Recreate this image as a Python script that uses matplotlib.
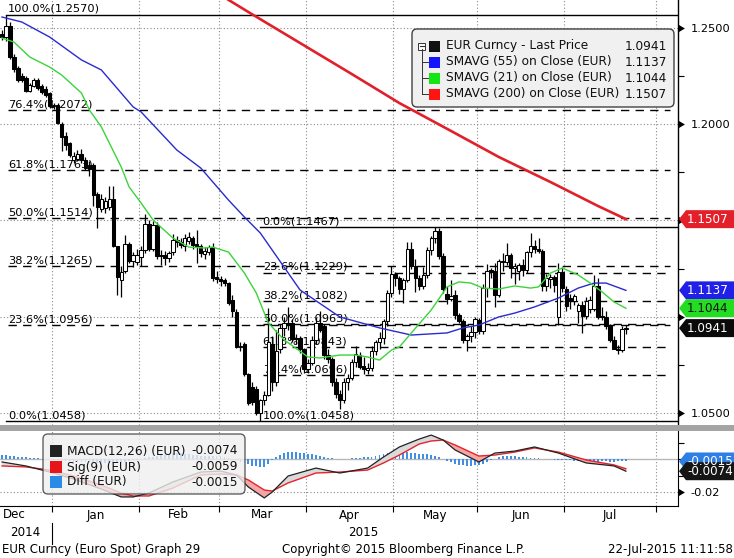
#!/usr/bin/env python3
"""EUR Curncy daily candles with Fibonacci retracements, SMAVG lines and MACD panel
(Bloomberg GP style), 15-Dec-2014 .. 22-Jul-2015."""

import numpy as np
import matplotlib
matplotlib.use("Agg")
import matplotlib.pyplot as plt
from matplotlib.patches import Polygon, Rectangle, FancyBboxPatch

plt.rcParams["font.family"] = ["DejaVu Sans"]

# ---- daily candles, one per weekday (index 0 = 15-Dec-2014) ----
opens = [
    1.2470, 1.2455, 1.2510, 1.2350, 1.2290, 1.2250, 1.2240, 1.2175, 1.2200, 1.2230, 1.2200, 1.2185, 1.2160,
    1.2095, 1.2100, 1.2000, 1.1940, 1.1900, 1.1815, 1.1820, 1.1845, 1.1815, 1.1790, 1.1790, 1.1640, 1.1560,
    1.1565, 1.1570, 1.1610, 1.1365, 1.1190, 1.1240, 1.1380, 1.1290, 1.1285,
    1.1310, 1.1345, 1.1480, 1.1350, 1.1478, 1.1315, 1.1320, 1.1305, 1.1335, 1.1400, 1.1390, 1.1370, 1.1395,
    1.1410, 1.1380, 1.1370, 1.1325, 1.1335, 1.1360, 1.1205,
    1.1195, 1.1190, 1.1175, 1.1085, 1.1025, 1.0843, 1.0860, 1.0700, 1.0635, 1.0625, 1.0500, 1.0565, 1.0595,
    1.0860, 1.0660, 1.0830, 1.0940, 1.0970, 1.0965, 1.0890, 1.0890, 1.0830,
    1.0730, 1.0760, 1.0880, 1.0970, 1.0950, 1.0800, 1.0780, 1.0660, 1.0600, 1.0570, 1.0660, 1.0680, 1.0765,
    1.0800, 1.0745, 1.0725, 1.0735, 1.0820, 1.0870, 1.0890, 1.0980, 1.1125,
    1.1220, 1.1200, 1.1145, 1.1190, 1.1350, 1.1265, 1.1200, 1.1160, 1.1215, 1.1345, 1.1410, 1.1445, 1.1315,
    1.1120, 1.1090, 1.1115, 1.1010, 1.0980, 1.0880, 1.0900, 1.0920,
    1.0985, 1.0925, 1.1150, 1.1245, 1.1240, 1.1115, 1.1290, 1.1285, 1.1320, 1.1255, 1.1240, 1.1270, 1.1245,
    1.1335, 1.1365, 1.1350, 1.1340, 1.1160, 1.1195, 1.1205, 1.1000, 1.1235,
    1.1145, 1.1095, 1.1080, 1.1030, 1.1060, 1.1005, 1.1040, 1.1040, 1.1160, 1.1005, 1.1000, 1.0950, 1.0880,
    1.0835, 1.0825, 1.0935,
]
highs = [
    1.2490, 1.2570, 1.2530, 1.2365, 1.2305, 1.2265, 1.2250, 1.2215, 1.2240, 1.2240, 1.2210, 1.2200, 1.2170,
    1.2110, 1.2110, 1.2010, 1.1960, 1.1910, 1.1855, 1.1865, 1.1870, 1.1830, 1.1810, 1.1800, 1.1650, 1.1640,
    1.1620, 1.1680, 1.1680, 1.1370, 1.1265, 1.1425, 1.1390, 1.1335, 1.1350,
    1.1370, 1.1535, 1.1500, 1.1495, 1.1490, 1.1345, 1.1340, 1.1340, 1.1430, 1.1420, 1.1410, 1.1430, 1.1440,
    1.1420, 1.1450, 1.1380, 1.1360, 1.1375, 1.1385, 1.1240,
    1.1210, 1.1200, 1.1180, 1.1115, 1.1040, 1.0870, 1.0870, 1.0710, 1.0660, 1.0640, 1.0575, 1.0615, 1.1043,
    1.0900, 1.0930, 1.0960, 1.1000, 1.1050, 1.0990, 1.0910, 1.0900, 1.0840,
    1.0780, 1.0900, 1.1000, 1.1030, 1.0960, 1.0830, 1.0790, 1.0680, 1.0620, 1.0680, 1.0700, 1.0780, 1.0850,
    1.0815, 1.0790, 1.0760, 1.0850, 1.0880, 1.0920, 1.0990, 1.1140, 1.1265,
    1.1235, 1.1210, 1.1200, 1.1390, 1.1390, 1.1300, 1.1215, 1.1260, 1.1360, 1.1420, 1.1467, 1.1460, 1.1330,
    1.1160, 1.1190, 1.1140, 1.1020, 1.0990, 1.0910, 1.0950, 1.1000,
    1.0995, 1.1170, 1.1275, 1.1255, 1.1280, 1.1300, 1.1330, 1.1385, 1.1330, 1.1280, 1.1280, 1.1300, 1.1340,
    1.1436, 1.1400, 1.1410, 1.1350, 1.1220, 1.1220, 1.1215, 1.1280, 1.1260,
    1.1160, 1.1120, 1.1120, 1.1070, 1.1080, 1.1100, 1.1110, 1.1215, 1.1200, 1.1050, 1.1030, 1.0960, 1.0900,
    1.0855, 1.0950, 1.0955,
]
lows = [
    1.2440, 1.2430, 1.2340, 1.2270, 1.2220, 1.2220, 1.2165, 1.2165, 1.2195, 1.2180, 1.2155, 1.2140, 1.2085,
    1.2080, 1.2000, 1.1860, 1.1865, 1.1830, 1.1800, 1.1810, 1.1800, 1.1760, 1.1730, 1.1575, 1.1460, 1.1545,
    1.1540, 1.1555, 1.1360, 1.1115, 1.1100, 1.1225, 1.1280, 1.1260, 1.1270,
    1.1265, 1.1330, 1.1340, 1.1340, 1.1300, 1.1270, 1.1270, 1.1285, 1.1320, 1.1360, 1.1355, 1.1340, 1.1380,
    1.1350, 1.1280, 1.1310, 1.1300, 1.1320, 1.1185, 1.1175,
    1.1160, 1.1160, 1.1060, 1.1000, 1.0840, 1.0820, 1.0690, 1.0540, 1.0540, 1.0490, 1.0458, 1.0540, 1.0590,
    1.0615, 1.0640, 1.0810, 1.0900, 1.0930, 1.0870, 1.0860, 1.0810, 1.0710,
    1.0710, 1.0750, 1.0860, 1.0920, 1.0780, 1.0760, 1.0640, 1.0580, 1.0521, 1.0550, 1.0620, 1.0670, 1.0740,
    1.0730, 1.0705, 1.0700, 1.0720, 1.0800, 1.0835, 1.0860, 1.0950, 1.1100,
    1.1160, 1.1120, 1.1070, 1.1180, 1.1250, 1.1130, 1.1140, 1.1145, 1.1200, 1.1320, 1.1385, 1.1300, 1.1125,
    1.1065, 1.1080, 1.0990, 1.0965, 1.0865, 1.0820, 1.0870, 1.0890,
    1.0910, 1.0910, 1.1100, 1.1200, 1.1050, 1.1100, 1.1240, 1.1270, 1.1200, 1.1170, 1.1190, 1.1210, 1.1225,
    1.1310, 1.1330, 1.1330, 1.1135, 1.1135, 1.1150, 1.1130, 1.0955, 1.1130,
    1.1030, 1.1040, 1.1060, 1.0970, 1.0915, 1.0990, 1.1020, 1.1030, 1.0990, 1.0985, 1.0935, 1.0870, 1.0830,
    1.0808, 1.0815, 1.0910,
]
closes = [
    1.2455, 1.2510, 1.2350, 1.2285, 1.2230, 1.2230, 1.2175, 1.2205, 1.2230, 1.2190, 1.2165, 1.2150, 1.2095,
    1.2100, 1.2005, 1.1935, 1.1890, 1.1840, 1.1835, 1.1845, 1.1815, 1.1775, 1.1770, 1.1630, 1.1570, 1.1610,
    1.1600, 1.1610, 1.1365, 1.1205, 1.1235, 1.1380, 1.1290, 1.1320, 1.1320,
    1.1345, 1.1480, 1.1350, 1.1478, 1.1315, 1.1320, 1.1305, 1.1330, 1.1400, 1.1390, 1.1375, 1.1410, 1.1415,
    1.1375, 1.1365, 1.1330, 1.1340, 1.1360, 1.1200, 1.1195,
    1.1185, 1.1175, 1.1070, 1.1030, 1.0845, 1.0850, 1.0700, 1.0550, 1.0555, 1.0500, 1.0565, 1.0595, 1.0870,
    1.0660, 1.0820, 1.0940, 1.0970, 1.0960, 1.0885, 1.0885, 1.0830, 1.0730,
    1.0760, 1.0880, 1.0970, 1.0930, 1.0800, 1.0780, 1.0660, 1.0600, 1.0570, 1.0660, 1.0680, 1.0765, 1.0805,
    1.0740, 1.0730, 1.0735, 1.0820, 1.0870, 1.0890, 1.0980, 1.1125, 1.1220,
    1.1200, 1.1145, 1.1190, 1.1350, 1.1265, 1.1200, 1.1160, 1.1215, 1.1345, 1.1410, 1.1445, 1.1315, 1.1145,
    1.1090, 1.1110, 1.1010, 1.0980, 1.0880, 1.0900, 1.0920, 1.0990,
    1.0925, 1.1150, 1.1240, 1.1235, 1.1115, 1.1290, 1.1285, 1.1320, 1.1255, 1.1265, 1.1270, 1.1245, 1.1335,
    1.1365, 1.1350, 1.1340, 1.1160, 1.1200, 1.1205, 1.1165, 1.1235, 1.1150,
    1.1055, 1.1080, 1.1110, 1.1060, 1.1005, 1.1080, 1.1085, 1.1160, 1.1000, 1.1000, 1.0950, 1.0880, 1.0835,
    1.0825, 1.0935, 1.0941,
]

# moving averages (day index, price)
sma55_idx = [0, 5, 12, 20, 25, 33, 35, 44, 50, 57, 61, 65, 75, 85, 95, 103, 112, 116, 120, 125, 129, 134,
             140, 145, 149, 152, 157]
sma55_val = [1.2557, 1.2531, 1.2453, 1.2334, 1.2282, 1.2090, 1.2064, 1.1866, 1.1773, 1.1606, 1.1518, 1.1435,
             1.1139, 1.0999, 1.0942, 1.0905, 1.0916, 1.0942, 1.0957, 1.0999, 1.1019, 1.1051, 1.1097, 1.1149,
             1.1175, 1.1175, 1.1137]
sma21_idx = [0, 3, 7, 12, 15, 20, 22, 25, 27, 30, 32, 35, 38, 43, 47, 51, 53, 57, 61, 64, 67, 71, 77, 80, 85,
             89, 92, 95, 98, 100, 103, 108, 112, 115, 118, 121, 125, 129, 133, 135, 138, 141, 145, 148, 151,
             154, 157]
sma21_val = [1.2448, 1.2427, 1.2349, 1.2297, 1.2256, 1.2162, 1.2074, 1.1986, 1.1903, 1.1778, 1.1674, 1.1591,
             1.1503, 1.1409, 1.1362, 1.1357, 1.1362, 1.1336, 1.1227, 1.1123, 1.0968, 1.0880, 1.0791, 1.0786,
             1.0801, 1.0801, 1.0791, 1.0775, 1.0827, 1.0843, 1.0916, 1.1035, 1.1155, 1.1181, 1.1175, 1.1149,
             1.1144, 1.1160, 1.1149, 1.1155, 1.1227, 1.1253, 1.1217, 1.1175, 1.1129, 1.1077, 1.1044]
sma200_idx = [57, 62, 75, 88, 100, 113, 125, 138, 150, 157]
sma200_val = [1.2646, 1.2583, 1.2422, 1.2261, 1.2110, 1.1965, 1.1830, 1.1700, 1.1575, 1.1507]

# Fibonacci retracements
fib1_pct = ["100.0%", "76.4%", "61.8%", "50.0%", "38.2%", "23.6%", "0.0%"]
fib1_lvl = [1.2570, 1.2072, 1.1763, 1.1514, 1.1265, 1.0956, 1.0458]
fib2_pct = ["0.0%", "23.6%", "38.2%", "50.0%", "61.8%", "76.4%", "100.0%"]
fib2_lvl = [1.1467, 1.1229, 1.1082, 1.0963, 1.0843, 1.0696, 1.0458]
fib1_start, fib2_start = 1, 65   # 16-Dec-2014 high, 16-Mar-2015 low

# MACD(12,26) and Sig(9)
macd_idx = [0, 6, 12, 18, 25, 30, 33, 37, 43, 50, 55, 59, 62, 66, 68, 72, 79, 85, 92, 96, 100, 105, 108,
            111, 114, 120, 124, 129, 134, 140, 147, 154, 157]
macd_val = [-0.0018, -0.0042, -0.0079, -0.0121, -0.0182, -0.0230, -0.0230, -0.0206, -0.0139, -0.0079,
            -0.0073, -0.0097, -0.0170, -0.0236, -0.0200, -0.0103, -0.0055, -0.0085, -0.0055, 0.0012,
            0.0073, 0.0121, 0.0145, 0.0115, 0.0055, -0.0018, 0.0036, 0.0048, 0.0073, 0.0036, -0.0024,
            -0.0042, -0.0074]
sig_val = [-0.0042, -0.0048, -0.0067, -0.0103, -0.0158, -0.0206, -0.0224, -0.0224, -0.0176, -0.0097,
           -0.0091, -0.0097, -0.0127, -0.0188, -0.0194, -0.0145, -0.0085, -0.0079, -0.0067, -0.0024,
           0.0024, 0.0091, 0.0109, 0.0115, 0.0085, 0.0018, 0.0024, 0.0042, 0.0067, 0.0042, -0.0006,
           -0.0036, -0.0059]
# daily Diff bars, in 1e-4
diff_e4 = [
    24, 22, 20, 18, 15, 12, 10, 8, 6, 4, 2, 0, -3,
    -6, -8, -10, -12, -14, -16, -18, -19, -20, -21, -22, -23, -24, -24, -24, -25, -24, -22, -18, -12, -8, -4,
    -2, 4, 10, 14, 18, 22, 26, 30, 34, 36, 35, 32, 28, 25, 22, 20, 19, 18, 18, 18,
    16, 12, 6, 0, -8, -16, -24, -32, -40, -45, -48, -48, -30, -5, 10, 25, 35, 42, 44, 42, 38, 34,
    32, 30, 26, 20, 14, 8, 4, 0, -2, -2, 0, 4, 6, 8, 10, 12, 14, 18, 24, 30, 36, 44,
    48, 48, 44, 40, 36, 34, 32, 30, 28, 26, 18, 10, 0, -10, -20, -28, -34, -38, -40, -40, -38,
    -36, -28, -18, -8, 2, 10, 16, 18, 18, 16, 14, 12, 10, 8, 6, 4, 2, 0, -2, -4, -4, -4,
    -6, -8, -10, -12, -14, -16, -18, -18, -16, -14, -14, -16, -16, -15, -14, -15,
]

month_names = ["Dec", "Jan", "Feb", "Mar", "Apr", "May", "Jun", "Jul"]
month_days = [13, 22, 20, 22, 22, 21, 22, 23]   # weekdays shown per month

last_price, last_sma55, last_sma21, last_sma200 = 1.0941, 1.1137, 1.1044, 1.1507
last_macd, last_sig, last_diff = -0.0074, -0.0059, -0.0015

# ---- layout (pixels of a 734x558 canvas) ----
W, H = 734, 558
RIGHT = 678
fig = plt.figure(figsize=(W / 100, H / 100), dpi=100)
fig.patch.set_facecolor("white")


def frac(left, top, w, h):
    return [left / W, 1 - (top + h) / H, w / W, h / H]


ax = fig.add_axes(frac(0, 0, RIGHT, 425))
ax2 = fig.add_axes(frac(0, 431, RIGHT, 75))
ov = fig.add_axes([0, 0, 1, 1], zorder=20)
ov.set_xlim(0, W)
ov.set_ylim(H, 0)
ov.axis("off")

xlim = (-0.5, 170.1)
edges = np.concatenate([[-0.5], np.cumsum(month_days) - 0.5])
grid_kw = dict(color="#8a8a8a", lw=0.8, ls=(0, (1, 2)))

# ---- price panel ----
o, h, l, c = map(np.array, (opens, highs, lows, closes))
idx = np.arange(len(c))
up = c >= o
body_lo = np.minimum(o, c)
body_h = np.maximum(np.abs(c - o), 0.0003)
ax.vlines(idx, l, h, color="black", lw=0.9, zorder=4)
ax.bar(idx[up], body_h[up], bottom=body_lo[up], width=0.85, facecolor="white", edgecolor="black",
       lw=0.75, zorder=5)
ax.bar(idx[~up], body_h[~up], bottom=body_lo[~up], width=0.85, facecolor="black", edgecolor="black",
       lw=0.75, zorder=5)

ax.plot(sma55_idx, sma55_val, color="#2a2ad0", lw=1.0, zorder=6)
ax.plot(sma21_idx, sma21_val, color="#3ad43a", lw=1.0, zorder=6)
ax.plot(sma200_idx, sma200_val, color="#e0202a", lw=1.9, zorder=6)

dash_end = 168
for pct, lvl in zip(fib1_pct, fib1_lvl):
    if pct in ("100.0%", "0.0%"):
        ax.plot([fib1_start, xlim[1]], [lvl, lvl], color="black", lw=1.0, zorder=3)
    else:
        ax.plot([fib1_start + 0.5, dash_end], [lvl, lvl], color="black", lw=1.0, ls=(0, (6, 4.5)), zorder=3)
    ax.annotate(f"{pct}({lvl:.4f})", (fib1_start + 0.5, lvl), xytext=(0, 0.5), textcoords="offset points",
                fontsize=8.2, va="bottom", ha="left", zorder=3.5)
for pct, lvl in zip(fib2_pct, fib2_lvl):
    if pct == "0.0%":
        ax.plot([fib2_start, xlim[1]], [lvl, lvl], color="black", lw=1.0, zorder=3)
    elif pct != "100.0%":
        ax.plot([fib2_start + 0.6, dash_end], [lvl, lvl], color="black", lw=1.0, ls=(0, (6, 4.5)), zorder=3)
    ax.annotate(f"{pct}({lvl:.4f})", (fib2_start + 0.6, lvl), xytext=(0, 0.5), textcoords="offset points",
                fontsize=8.2, va="bottom", ha="left", zorder=3.5)

ax.set_xlim(*xlim)
ax.set_ylim(1.043766, 1.264545)
for s in ("top", "left", "bottom"):
    ax.spines[s].set_visible(False)
ax.spines["right"].set_linewidth(1.0)
ax.set_xticks(edges[1:])
ax.tick_params(axis="x", length=0, labelbottom=False)
ax.yaxis.tick_right()
major = [1.05, 1.10, 1.15, 1.20, 1.25]
ax.set_yticks(major)
ax.set_yticklabels(["1.0500", "", "", "1.2000", "1.2500"])
ax.set_yticks([1.075, 1.125, 1.175, 1.225], minor=True)
ax.tick_params(axis="y", which="both", direction="out", length=4, width=0.8, pad=5, labelsize=8.2)
ax.grid(True, which="major", **grid_kw)
ax.set_axisbelow(True)
ax.plot(np.full(len(major), 1.0), major, transform=ax.get_yaxis_transform(), ls="none", marker=9,
        ms=5, color="black", clip_on=False, zorder=7)


def tag(axis, val, text, fc, tc, half):
    tr = axis.get_yaxis_transform()
    x0, x1, x2 = 1 + 1 / RIGHT, 1 + 8 / RIGHT, W / RIGHT + 0.01
    axis.add_patch(Polygon([(x0, val), (x1, val + half), (x2, val + half), (x2, val - half),
                            (x1, val - half)], closed=True, transform=tr, fc=fc, ec="none",
                           clip_on=False, zorder=30))
    axis.text(1 + 9 / RIGHT, val, text, transform=tr, color=tc, fontsize=8.6, va="center", ha="left",
              clip_on=False, zorder=31)


half_main = 9 / 1925
tag(ax, last_sma200, f"{last_sma200:.4f}", "#e3202a", "white", half_main)
tag(ax, last_sma55, f"{last_sma55:.4f}", "#2020e6", "white", half_main)
tag(ax, last_sma21, f"{last_sma21:.4f}", "#22dd22", "#111111", half_main)
tag(ax, last_price, f"{last_price:.4f}", "#0a0a0a", "white", half_main)

# ---- MACD panel ----
mi = np.array(macd_idx)
mv = np.array(macd_val)
sv = np.array(sig_val)
ax2.bar(idx, np.array(diff_e4) * 1e-4, width=0.45, color="#3f8fe8", zorder=2)
ax2.axhline(0, color="#b8b8b8", lw=1.0, zorder=1.5)
ax2.fill_between(mi, mv, sv, where=sv > mv, interpolate=True, color="#f4a6a6", lw=0, zorder=2.5)
ax2.fill_between(mi, mv, sv, where=mv >= sv, interpolate=True, color="#dadada", lw=0, zorder=2.5)
ax2.plot(mi, sv, color="#e3242c", lw=1.0, zorder=3)
ax2.plot(mi, mv, color="#222222", lw=0.9, zorder=3.2)

ax2.set_xlim(*xlim)
ax2.set_ylim(-0.02848, 0.01697)
for s in ("top", "left"):
    ax2.spines[s].set_visible(False)
ax2.set_xticks(edges[1:])
ax2.tick_params(axis="x", direction="out", length=4, width=0.8, labelbottom=False)
ax2.yaxis.tick_right()
ax2.set_yticks([-0.02])
ax2.set_yticklabels(["-0.02"])
ax2.set_yticks([0.01, 0.0, -0.01], minor=True)
ax2.tick_params(axis="y", which="both", direction="out", length=4, width=0.8, pad=5, labelsize=8.2)
ax2.grid(True, which="major", **grid_kw)
ax2.set_axisbelow(True)
ax2.plot([1.0], [-0.02], transform=ax2.get_yaxis_transform(), ls="none", marker=9, ms=5,
         color="black", clip_on=False, zorder=7)
half_macd = 9 / 1650
tag(ax2, last_diff, f"{last_diff:.4f}", "#2d7fe6", "white", half_macd)
tag(ax2, last_macd, f"{last_macd:.4f}", "#151515", "white", half_macd)

# month labels / years below the MACD panel
xt = ax2.get_xaxis_transform()
centers = (edges[:-1] + edges[1:]) / 2
for k, name in enumerate(month_names):
    if k == 0:
        ax2.text(edges[0] + 0.8, -0.12, name, transform=xt, fontsize=8.6, ha="left", va="center")
    else:
        ax2.text(centers[k], -0.12, name, transform=xt, fontsize=8.6, ha="center", va="center")
ax2.text(5.8, -0.36, "2014", transform=xt, fontsize=8.6, ha="center", va="center")
ax2.text(90.8, -0.36, "2015", transform=xt, fontsize=8.6, ha="center", va="center")
ax2.plot([edges[1], edges[1]], [-0.22, -0.5], transform=xt, color="black", lw=0.8, clip_on=False)

# ---- overlay: separator band, legends, footer ----
ov.add_patch(Rectangle((0, 425), W, 6, fc="#a4a4a4", ec="none"))

ov.add_patch(FancyBboxPatch((412, 29), 262, 78, boxstyle="round,pad=0,rounding_size=5",
                            fc="#f0f0f0", ec="#3c3c3c", lw=1.0, alpha=0.97))
leg_rows = [46, 62, 78, 94]
leg_cols = ["#111111", "#1414ff", "#14e614", "#ff1414"]
leg_txt = ["EUR Curncy - Last Price", "SMAVG (55) on Close (EUR)", "SMAVG (21) on Close (EUR)",
           "SMAVG (200) on Close (EUR)"]
leg_val = [last_price, last_sma55, last_sma21, last_sma200]
ov.plot([421.5, 421.5], [49, leg_rows[-1]], color="#333333", lw=0.7)
ov.add_patch(Rectangle((418, 42.5), 7, 7, fc="white", ec="#333333", lw=0.7))
ov.plot([419.5, 423.5], [46, 46], color="#333333", lw=0.8)
for yy, col, txt, val in zip(leg_rows, leg_cols, leg_txt, leg_val):
    if yy != leg_rows[0]:
        ov.plot([421.5, 428], [yy, yy], color="#333333", lw=0.7)
    ov.add_patch(Rectangle((429, yy - 5.5), 11, 11, fc=col, ec="none"))
    ov.text(446, yy, txt, fontsize=8.7, va="center", ha="left", color="#111111")
    ov.text(667, yy, f"{val:.4f}", fontsize=8.7, va="center", ha="right", color="#111111")

ov.add_patch(FancyBboxPatch((43, 434), 202, 60, boxstyle="round,pad=0,rounding_size=5",
                            fc="#efefef", ec="#3c3c3c", lw=1.0, alpha=0.8))
m_rows = [451, 467, 482]
m_cols = ["#222222", "#e8141c", "#2d8be8"]
m_txt = ["MACD(12,26) (EUR)", "Sig(9) (EUR)", "Diff (EUR)"]
m_val = [last_macd, last_sig, last_diff]
for yy, col, txt, val in zip(m_rows, m_cols, m_txt, m_val):
    ov.add_patch(Rectangle((50, yy - 6), 12, 12, fc=col, ec="none"))
    ov.text(67, yy, txt, fontsize=8.7, va="center", ha="left", color="#111111")
    ov.text(238, yy, f"{val:.4f}", fontsize=8.7, va="center", ha="right", color="#111111")

ov.text(2, 550, "EUR Curncy (Euro Spot) Graph 29", fontsize=8.5, va="center", ha="left")
ov.text(282, 550, "Copyright\u00a9 2015 Bloomberg Finance L.P.", fontsize=8.5, va="center", ha="left")
ov.text(733, 550, "22-Jul-2015 11:11:58", fontsize=8.5, va="center", ha="right")

fig.savefig("out.png", dpi=100, facecolor="white")
